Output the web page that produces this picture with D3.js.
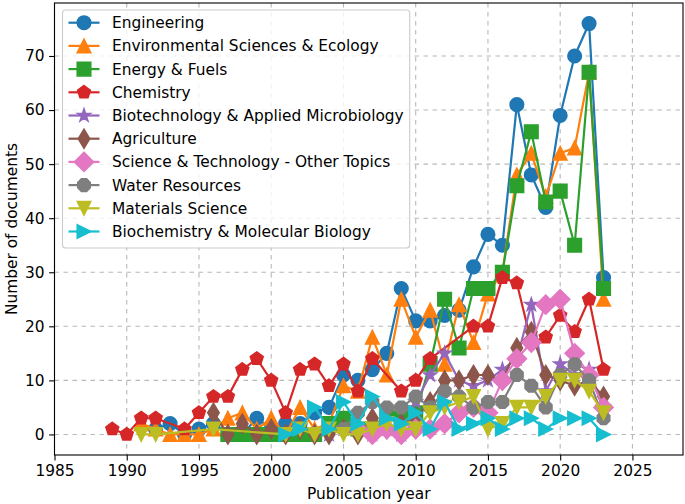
<!DOCTYPE html>
<html><head><meta charset="utf-8">
<script src="https://cdn.jsdelivr.net/npm/d3@7"></script>
<style>
body{margin:0;background:#fff}
text{font-family:"DejaVu Sans",sans-serif;fill:#000}
</style>
</head><body>
<svg id="chart" width="685" height="504"></svg>
<script>
const _ = null;
const years = d3.range(1989, 2024);
const seriesNames = ["Engineering","Environmental Sciences & Ecology","Energy & Fuels","Chemistry",
  "Biotechnology & Applied Microbiology","Agriculture","Science & Technology - Other Topics",
  "Water Resources","Materials Science","Biochemistry & Molecular Biology"];
const xTicks = [1985,1990,1995,2000,2005,2010,2015,2020,2025];
const yTicks = [0,10,20,30,40,50,60,70];
//                       1989..                 1999..                                   2009..                                     2019..2023
const engineering   = [_,_,_,1,2,0,1,2,0,0,   3,1,2,2,4,5,11,10,12,15,   27,21,21,22,23,31,37,35,61,48,   42,59,70,76,29];
const envSciences   = [_,_,2,1,0,0,0,1,3,4,   1,3,0,5,1,2,9,8,18,11,     25,18,23,13,24,17,26,30,48,52,   44,52,53,67,25];
const energyFuels   = [_,_,_,_,_,_,_,_,0,0,   0,0,0,0,0,2,3,1,1,4,       3,4,13,25,16,27,27,30,46,56,     43,45,35,67,27];
const chemistry     = [1,0,3,3,_,1,4,7,7,12,  14,10,4,12,13,9,13,8,14,_, 8,10,14,_,_,20,20,29,28,17,      18,22,19,25,12];
const biotech       = [_,_,_,_,_,_,_,_,_,_,   _,_,_,_,_,0,1,1,0,1,       0,6,11,15,10,9,10,12,14,24,      8,13,11,12,5];
const agriculture   = [_,_,_,_,_,_,_,4,0,2,   0,1,0,1,0,0,1,0,3,1,       2,3,6,10,10,11,11,10,16,19,      11,10,9,10,7];
const sciTechOther  = [_,_,_,_,_,_,_,_,_,_,   _,_,_,_,_,_,_,1,0,1,       0,1,1,2,4,5,4,10,14,17,          24,25,15,11,5];
const waterRes      = [_,_,_,_,_,_,_,_,_,_,   _,_,_,_,_,_,1,4,6,5,       5,7,5,8,7,5,6,6,11,9,            5,11,13,10,3];
const materials     = [_,_,0,0,_,_,_,1,_,_,   _,_,0,1,0,1,0,0,1,2,       1,1,4,5,6,7,1,2,5,5,             7,10,10,8,4];
const biochem       = [_,_,_,_,_,_,_,_,_,_,   _,_,0,1,5,1,6,2,7,3,       2,4,1,6,1,2,3,1,3,3,             1,3,3,3,0];

const seriesValues = [engineering,envSciences,energyFuels,chemistry,biotech,agriculture,
  sciTechOther,waterRes,materials,biochem];
const colors = ["#1f77b4","#ff7f0e","#2ca02c","#d62728","#9467bd","#8c564b","#e377c2","#7f7f7f","#bcbd22","#17becf"];
const markers = ["o","^","s","p","*","d","D","8","v",">"];

const m = {left:54.5, right:683, top:3, bottom:455};
const FS = 15.4;
const MS = 13.6;

const svg = d3.select("#chart");
const x = d3.scaleLinear().domain([1985, 2028.5]).range([m.left, m.right]);
const y = d3.scaleLinear().domain([-3.8, 79.8]).range([m.bottom, m.top]);

function poly(n, r, rot) {
  const pts = [];
  for (let i = 0; i < n; i++) {
    const a = rot + i * 2 * Math.PI / n;
    pts.push([r * Math.cos(a), r * Math.sin(a)]);
  }
  return "M" + pts.map(p => p[0].toFixed(2) + "," + p[1].toFixed(2)).join("L") + "Z";
}
function markerPath(t, s) {
  const r = s / 2;
  switch (t) {
    case "o": return `M${r},0A${r},${r} 0 1,1 ${-r},0A${r},${r} 0 1,1 ${r},0Z`;
    case "^": return `M0,${-r}L${-r},${r}L${r},${r}Z`;
    case "v": return `M0,${r}L${-r},${-r}L${r},${-r}Z`;
    case ">": return `M${r},0L${-r},${-r}L${-r},${r}Z`;
    case "s": return `M${-r},${-r}H${r}V${r}H${-r}Z`;
    case "p": return poly(5, r, -Math.PI / 2);
    case "8": return poly(8, r, Math.PI / 8);
    case "*": {
      const pts = [];
      for (let i = 0; i < 10; i++) {
        const rr = i % 2 === 0 ? r : r * 0.381966;
        const a = -Math.PI / 2 + i * Math.PI / 5;
        pts.push([rr * Math.cos(a), rr * Math.sin(a)]);
      }
      return "M" + pts.map(p => p[0].toFixed(2) + "," + p[1].toFixed(2)).join("L") + "Z";
    }
    case "D": { const h = s * Math.SQRT1_2; return `M0,${-h}L${h},0L0,${h}L${-h},0Z`; }
    case "d": { const h = s * Math.SQRT1_2, w = 0.6 * h; return `M0,${-h}L${w},0L0,${h}L${-w},0Z`; }
  }
}

// grid
const grid = svg.append("g");
grid.selectAll("line.gx").data(xTicks).join("line")
  .attr("x1", d => x(d)).attr("x2", d => x(d)).attr("y1", m.top).attr("y2", m.bottom)
  .attr("stroke", "#b8b8b8").attr("stroke-width", 1.1).attr("stroke-dasharray", "4.5,4.5");
grid.selectAll("line.gy").data(yTicks).join("line")
  .attr("y1", d => y(d)).attr("y2", d => y(d)).attr("x1", m.left).attr("x2", m.right)
  .attr("stroke", "#b8b8b8").attr("stroke-width", 1.1).attr("stroke-dasharray", "4.5,4.5");

// series
const line = d3.line().x(d => x(d[0])).y(d => y(d[1]));
const plot = svg.append("g");
seriesValues.forEach((vals, i) => {
  const pts = years.map((yr, k) => [yr, vals[k]]).filter(d => d[1] !== null);
  const g = plot.append("g");
  g.append("path").attr("d", line(pts)).attr("fill", "none")
    .attr("stroke", colors[i]).attr("stroke-width", 2.2).attr("stroke-linejoin", "round");
  g.selectAll("path.mk").data(pts).join("path").attr("class", "mk")
    .attr("d", markerPath(markers[i], MS))
    .attr("transform", d => `translate(${x(d[0])},${y(d[1])})`)
    .attr("fill", colors[i]).attr("stroke", colors[i]).attr("stroke-width", 1.5)
    .attr("stroke-linejoin", "miter");
});

// axes
const xAxis = svg.append("g").attr("transform", `translate(0,${m.bottom})`)
  .call(d3.axisBottom(x).tickValues(xTicks).tickFormat(d3.format("d")).tickSize(5.4).tickPadding(4.5));
const yAxis = svg.append("g").attr("transform", `translate(${m.left},0)`)
  .call(d3.axisLeft(y).tickValues(yTicks).tickSize(5.4).tickPadding(4.5));
[xAxis, yAxis].forEach(a => {
  a.select(".domain").remove();
  a.selectAll("line").attr("stroke", "#000").attr("stroke-width", 1.1);
  a.selectAll("text").attr("font-size", FS).attr("font-family", "DejaVu Sans").attr("fill", "#000");
});
svg.append("rect").attr("x", m.left).attr("y", m.top)
  .attr("width", m.right - m.left).attr("height", m.bottom - m.top)
  .attr("fill", "none").attr("stroke", "#000").attr("stroke-width", 1.1);

svg.append("text").attr("x", (m.left + m.right) / 2).attr("y", 499)
  .attr("text-anchor", "middle").attr("font-size", FS).text("Publication year");
svg.append("text").attr("transform", `translate(17,${(m.top + m.bottom) / 2}) rotate(-90)`)
  .attr("text-anchor", "middle").attr("font-size", FS).text("Number of documents");

// legend
const lg = svg.append("g");
const frame = lg.append("rect").attr("x", 62.5).attr("y", 10).attr("rx", 3).attr("ry", 3)
  .attr("height", 238).attr("fill", "#fff").attr("fill-opacity", 0.8)
  .attr("stroke", "#cccccc").attr("stroke-width", 1.1);
let maxEnd = 0;
seriesNames.forEach((name, i) => {
  const cy = 22.7 + i * 23.2;
  lg.append("line").attr("x1", 68.5).attr("x2", 99.5).attr("y1", cy).attr("y2", cy)
    .attr("stroke", colors[i]).attr("stroke-width", 2.2);
  lg.append("path").attr("d", markerPath(markers[i], MS))
    .attr("transform", `translate(84,${cy})`)
    .attr("fill", colors[i]).attr("stroke", colors[i]).attr("stroke-width", 1.5);
  const t = lg.append("text").attr("x", 112).attr("y", cy).attr("dy", "0.36em")
    .attr("font-size", FS).text(name);
  maxEnd = Math.max(maxEnd, 112 + t.node().getComputedTextLength());
});
frame.attr("width", maxEnd + 6 - 62.5);
</script>
</body></html>
